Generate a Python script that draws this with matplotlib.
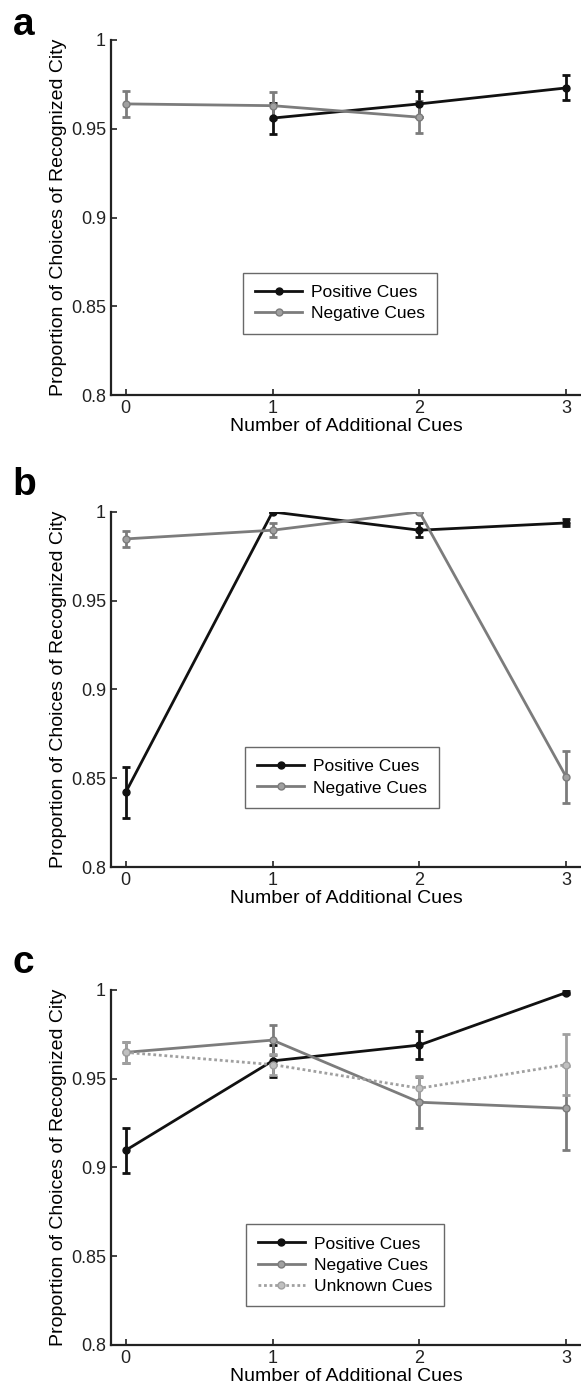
#!/usr/bin/env python3
# Three panels: proportion of choices of the recognized city vs. number of additional cues

import matplotlib
matplotlib.use("Agg")
import matplotlib.pyplot as plt
from matplotlib.lines import Line2D

plt.rcParams['font.family'] = ['Liberation Sans', 'DejaVu Sans']

cues = [0, 1, 2, 3]
y_ticks = [0.8, 0.85, 0.9, 0.95, 1.0]
y_tick_labels = ['0.8', '0.85', '0.9', '0.95', '1']

# panel a
a_pos_x = [1, 2, 3]
a_pos = [0.956, 0.964, 0.973]
a_pos_err = [0.0087, 0.0075, 0.007]
a_neg_x = [0, 1, 2]
a_neg = [0.964, 0.963, 0.9565]
a_neg_err = [0.0075, 0.0075, 0.009]

# panel b
b_pos = [0.842, 1.0, 0.9897, 0.9938]
b_pos_err = [0.0145, 0.0, 0.004, 0.002]
b_neg = [0.9848, 0.9897, 1.0, 0.8506]
b_neg_err = [0.0045, 0.004, 0.0, 0.0145]

# panel c
c_pos = [0.9096, 0.960, 0.9689, 0.9985]
c_pos_err = [0.0127, 0.009, 0.008, 0.001]
c_neg = [0.9648, 0.9717, 0.9367, 0.9333]
c_neg_err = [0.006, 0.0085, 0.0145, 0.0237]
c_unk = [0.9648, 0.9579, 0.9446, 0.9579]
c_unk_err = [0.006, 0.006, 0.007, 0.017]

BLACK = '#111111'
GRAY = '#7c7c7c'
LIGHT = '#a0a0a0'


def draw_series(ax, x, y, err, label, color, ls='-', mfc=None):
    ax.errorbar(x, y, yerr=err, color=color, ecolor=color, lw=2.0,
                elinewidth=2.0, capsize=3, capthick=2.0, ls=ls,
                marker='o', ms=5, mfc=mfc or color, mec=color)
    # legend entry shows only the line and marker
    return Line2D([], [], color=color, lw=2.0, ls=ls, marker='o', ms=5,
                  mfc=mfc or color, mec=color, label=label)


def style_axes(ax, handles, legend_loc):
    ax.set_xlim(-0.1, 3.1)
    ax.set_ylim(0.8, 1.0)
    ax.set_xticks(cues)
    ax.set_yticks(y_ticks)
    ax.set_yticklabels(y_tick_labels)
    for s in ['top', 'right']:
        ax.spines[s].set_visible(False)
    for s in ['left', 'bottom']:
        ax.spines[s].set_linewidth(1.6)
        ax.spines[s].set_color('#222222')
    ax.tick_params(direction='in', length=4, width=1.2, labelsize=13,
                   colors='#222222')
    ax.set_xlabel('Number of Additional Cues', fontsize=14, labelpad=1)
    ax.set_ylabel('Proportion of Choices of Recognized City', fontsize=14,
                  labelpad=3)
    leg = ax.legend(handles=handles, loc='upper left',
                    bbox_to_anchor=legend_loc, fontsize=12.5, frameon=True,
                    fancybox=False, borderpad=0.7, handlelength=2.7,
                    labelspacing=0.35, borderaxespad=0, handletextpad=0.5)
    leg.get_frame().set_edgecolor('#444444')
    leg.get_frame().set_linewidth(1.0)


fig = plt.figure(figsize=(5.81, 13.93), dpi=100)

left = 0.191
width = 1.0 - left
height = 0.2549

ax_a = fig.add_axes([left, 0.7164, width, height])
h = [draw_series(ax_a, a_pos_x, a_pos, a_pos_err, 'Positive Cues', BLACK),
     draw_series(ax_a, a_neg_x, a_neg, a_neg_err, 'Negative Cues', GRAY,
                 mfc=LIGHT)]
style_axes(ax_a, h, (0.281, 0.344))

ax_b = fig.add_axes([left, 0.3776, width, height])
h = [draw_series(ax_b, cues, b_pos, b_pos_err, 'Positive Cues', BLACK),
     draw_series(ax_b, cues, b_neg, b_neg_err, 'Negative Cues', GRAY,
                 mfc=LIGHT)]
style_axes(ax_b, h, (0.285, 0.338))

ax_c = fig.add_axes([left, 0.0345, width, height])
h = [draw_series(ax_c, cues, c_pos, c_pos_err, 'Positive Cues', BLACK),
     draw_series(ax_c, cues, c_neg, c_neg_err, 'Negative Cues', GRAY,
                 mfc=LIGHT),
     draw_series(ax_c, cues, c_unk, c_unk_err, 'Unknown Cues', LIGHT,
                 ls=(0, (1, 1)), mfc='#c0c0c0')]
style_axes(ax_c, h, (0.287, 0.34))

for letter, ypos in [('a', 0.9749), ('b', 0.6447), ('c', 0.3015)]:
    fig.text(0.022, ypos, letter, fontsize=28, fontweight='bold',
             va='baseline', ha='left')

fig.savefig('out.png', dpi=100)
